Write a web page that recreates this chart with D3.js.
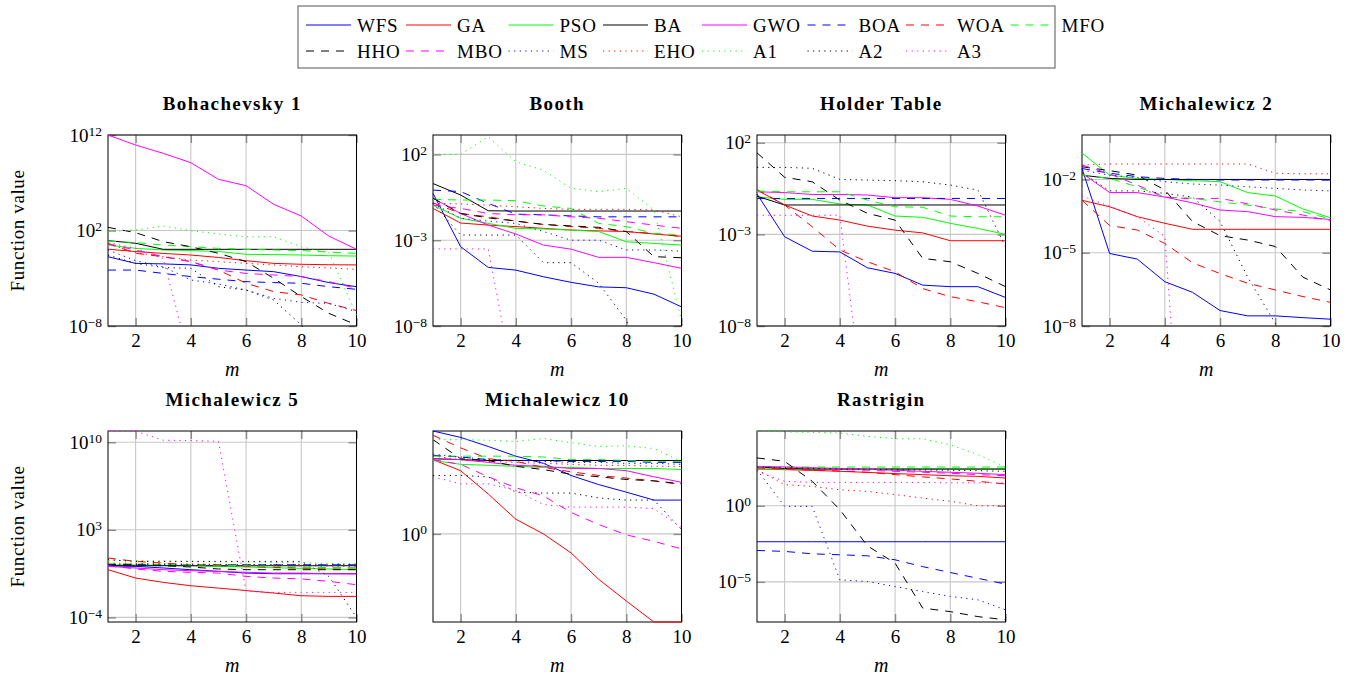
<!DOCTYPE html>
<html>
<head>
<meta charset="utf-8">
<script src="https://cdn.jsdelivr.net/npm/d3@7"></script>
<style>
  html, body { margin: 0; padding: 0; background: #fff; }
  svg { display: block; }
  svg text { font-family: "Liberation Serif", "DejaVu Serif", serif; }
</style>
</head>
<body>
<svg id="chart" width="1353" height="680"></svg>
<script>
// ---- series definitions -------------------------------------------------
const algorithms = ["WFS", "GA", "PSO", "BA", "GWO", "BOA", "WOA", "MFO",
                    "HHO", "MBO", "MS", "EHO", "A1", "A2", "A3"];
const algorithmColors = ["#0000ff", "#ff0000", "#00ff00", "#000000", "#ff00ff",
                         "#0000ff", "#ff0000", "#00ff00", "#000000", "#ff00ff",
                         "#0000ff", "#ff0000", "#00ff00", "#000000", "#ff00ff"];
const algorithmStyles = ["solid", "solid", "solid", "solid", "solid",
                         "dashed", "dashed", "dashed", "dashed", "dashed",
                         "dotted", "dotted", "dotted", "dotted", "dotted"];
const mValues = [1, 2, 3, 4, 5, 6, 7, 8, 9, 10];
const xTickValues = [2, 4, 6, 8, 10];

// ---- function values per benchmark, one row per algorithm (order above) --
const bohachevsky1 = [
  [0.18, 0.036, 0.032, 0.025, 0.011, 7.2e-3, 4.9e-3, 1.5e-3, 3.5e-4, 1.3e-4],
  [1.1, 0.63, 0.4, 0.27, 0.15, 0.069, 0.036, 0.029, 0.026, 0.025],
  [3.0, 1.35, 0.91, 0.79, 0.63, 0.32, 0.30, 0.27, 0.23, 0.21],
  [8.7, 4.6, 1.07, 1.07, 1.07, 1.07, 1.07, 1.07, 1.07, 1.07],
  [1e12, 8.9e10, 1.2e10, 1.26e9, 2.3e7, 4.9e6, 5.5e4, 3.3e3, 26, 1.07],
  [7.2e-3, 7.2e-3, 3.2e-3, 1.5e-3, 7.9e-4, 4.4e-4, 3.5e-4, 3.0e-4, 1.3e-4, 6.9e-5],
  [4.6, 0.41, 0.18, 0.055, 7.2e-3, 3.0e-4, 4.0e-5, 1.8e-5, 2.3e-6, 4.1e-7],
  [7.9, 5.4, 3.0, 2.0, 1.35, 1.07, 0.91, 0.79, 0.56, 0.41],
  [214, 59, 6.8, 2.0, 0.41, 0.055, 1.0e-3, 1.2e-5, 2.1e-7, 1.3e-8],
  [3.9, 0.91, 0.18, 0.055, 7.2e-3, 3.2e-3, 2.2e-3, 1.5e-3, 4.4e-4, 8.7e-5],
  [0.91, 0.069, 0.016, 6.6e-4, 2.5e-4, 5.9e-5, 7.9e-6, 3.0e-6, 2.3e-6, 3.2e-7],
  [3.9, 0.48, 0.18, 0.081, 0.055, 0.036, 0.025, 0.016, 0.012, 8.5e-3],
  [76, 112, 295, 95, 43, 22, 22, 2.0, 0.48, 1.4e-7],
  [0.27, 0.036, 0.013, 0.011, 1.3e-4, 5.9e-5, 5.2e-6, 1.3e-8, 1e-12, 1e-12],
  [5.4, 1.35, 0.12, 1e-12, 1e-12, 1e-12, 1e-12, 1e-12, 1e-12, 1e-12]
];
const booth = [
  [0.54, 4.2e-4, 2.6e-5, 1.8e-5, 7.4e-6, 3.5e-6, 1.9e-6, 1.7e-6, 7.2e-7, 1.3e-7],
  [0.071, 0.010, 7.6e-3, 6.2e-3, 4.9e-3, 3.9e-3, 3.5e-3, 3.2e-3, 2.3e-3, 1.7e-3],
  [0.11, 0.019, 9.5e-3, 4.9e-3, 4.5e-3, 3.9e-3, 3.2e-3, 8.1e-4, 6.5e-4, 5.2e-4],
  [2.0, 0.43, 0.052, 0.050, 0.050, 0.050, 0.050, 0.050, 0.050, 0.050],
  [0.28, 0.036, 7.6e-3, 2.3e-3, 5.2e-4, 3.0e-4, 1.0e-4, 1.0e-4, 4.9e-5, 2.3e-5],
  [0.83, 0.68, 0.14, 0.033, 0.030, 0.026, 0.023, 0.023, 0.023, 0.023],
  [0.15, 0.036, 0.023, 0.013, 8.3e-3, 6.2e-3, 4.9e-3, 3.2e-3, 2.5e-3, 1.6e-3],
  [0.24, 0.22, 0.22, 0.20, 0.098, 0.071, 9.5e-3, 6.2e-3, 2.5e-3, 2.0e-3],
  [0.28, 0.036, 0.020, 0.013, 8.3e-3, 6.8e-3, 5.6e-3, 3.2e-3, 1.1e-4, 9.5e-5],
  [0.11, 0.071, 0.036, 0.030, 0.030, 0.023, 0.019, 0.012, 7.6e-3, 4.9e-3],
  [0.14, 0.019, 0.013, 9.5e-3, 3.2e-3, 1.0e-3, 1.0e-3, 2.7e-4, 2.7e-4, 2.3e-4],
  [0.14, 0.13, 0.11, 0.089, 0.071, 0.063, 0.063, 0.063, 0.058, 0.023],
  [100, 100, 1070, 37, 12, 1.05, 0.68, 1.05, 0.058, 2.2e-8],
  [0.14, 2.0e-3, 2.0e-3, 2.0e-3, 4.9e-5, 4.9e-5, 3.1e-6, 2.2e-8, 1e-12, 1e-12],
  [3.1e-4, 3.1e-4, 3.1e-4, 1e-12, 1e-12, 1e-12, 1e-12, 1e-12, 1e-12, 1e-12]
];
const holderTable = [
  [0.16, 7.4e-4, 1.2e-4, 1.1e-4, 1.5e-5, 7.4e-6, 1.7e-6, 1.4e-6, 1.4e-6, 3.6e-7],
  [0.26, 0.040, 0.010, 6.0e-3, 2.8e-3, 1.7e-3, 1.2e-3, 4.5e-4, 4.5e-4, 4.5e-4],
  [0.11, 0.081, 0.081, 0.045, 0.040, 0.010, 8.5e-3, 4.0e-3, 2.1e-3, 1.0e-3],
  [0.12, 0.040, 0.040, 0.040, 0.040, 0.040, 0.040, 0.040, 0.040, 0.040],
  [0.21, 0.19, 0.15, 0.15, 0.14, 0.10, 0.10, 0.081, 0.035, 0.011],
  [0.091, 0.091, 0.091, 0.091, 0.091, 0.091, 0.091, 0.091, 0.091, 0.091],
  [0.28, 0.040, 2.6e-3, 1.4e-4, 3.2e-5, 9.1e-6, 1.1e-6, 4.0e-7, 2.1e-7, 1.0e-7],
  [0.23, 0.21, 0.21, 0.21, 0.074, 0.032, 0.030, 0.010, 9.1e-3, 9.1e-3],
  [28, 1.3, 0.74, 0.074, 0.014, 6.0e-3, 4.9e-5, 3.2e-5, 7.4e-6, 1.4e-6],
  null,
  null,
  null,
  null,
  [4.5, 4.5, 4.0, 1.0, 0.91, 0.85, 0.74, 0.49, 0.26, 2.1e-4],
  [0.011, 0.011, 0.011, 0.011, 1e-14, 1e-14, 1e-14, 1e-14, 1e-14, 1e-14]
];
const michalewicz2 = [
  [0.028, 9.3e-6, 5.5e-6, 6.5e-7, 2.4e-7, 4.3e-8, 2.6e-8, 2.6e-8, 2.2e-8, 1.9e-8],
  [1.4e-3, 7.6e-4, 3.0e-4, 1.6e-4, 9.1e-5, 9.1e-5, 9.1e-5, 9.1e-5, 9.1e-5, 9.1e-5],
  [0.12, 0.015, 0.011, 0.010, 8.9e-3, 8.1e-3, 2.9e-3, 2.1e-3, 6.2e-4, 2.7e-4],
  [0.015, 0.011, 0.010, 0.010, 0.010, 0.010, 0.010, 0.010, 0.010, 0.010],
  [0.018, 2.9e-3, 2.9e-3, 1.9e-3, 1.1e-3, 5.6e-4, 4.8e-4, 3.0e-4, 2.8e-4, 2.3e-4],
  [0.028, 0.018, 0.013, 0.011, 0.010, 9.5e-3, 9.5e-3, 9.5e-3, 9.5e-3, 9.5e-3],
  [1.4e-3, 1.3e-4, 8.5e-5, 2.4e-5, 3.9e-6, 1.4e-6, 5.6e-7, 3.0e-7, 1.6e-7, 9.3e-8],
  [0.015, 0.011, 5.0e-3, 1.9e-3, 1.7e-3, 1.2e-3, 8.9e-4, 6.2e-4, 4.8e-4, 2.4e-4],
  [0.033, 0.023, 0.015, 3.7e-3, 1.9e-4, 5.0e-5, 3.3e-5, 1.8e-5, 1.0e-6, 3.0e-7],
  [0.039, 0.017, 5.9e-3, 1.9e-3, 1.6e-3, 1.7e-3, 1.0e-3, 5.6e-4, 3.5e-4, 2.0e-4],
  [0.024, 0.015, 0.012, 8.1e-3, 6.5e-3, 5.9e-3, 5.0e-3, 4.3e-3, 3.7e-3, 3.4e-3],
  [0.039, 0.043, 0.043, 0.043, 0.043, 0.043, 0.043, 0.018, 0.017, 0.017],
  null,
  [0.019, 3.4e-3, 3.4e-3, 2.7e-3, 1.9e-3, 1.9e-4, 1.0e-6, 1.3e-8, 1e-12, 1e-12],
  [2.1e-3, 8.1e-4, 3.0e-4, 4.6e-5, 1e-20, 1e-20, 1e-20, 1e-20, 1e-20, 1e-20]
];
const michalewicz5 = [
  [1.35, 1.2, 0.89, 0.65, 0.48, 0.35, 0.31, 0.31, 0.31, 0.31],
  [0.65, 0.14, 0.063, 0.034, 0.022, 0.014, 8.9e-3, 5.4e-3, 4.8e-3, 4.8e-3],
  [1.6, 1.55, 1.45, 1.35, 1.2, 1.07, 0.93, 0.83, 0.74, 0.65],
  [1.35, 1.35, 1.35, 1.35, 1.35, 1.35, 1.35, 1.35, 1.35, 1.35],
  [1.2, 0.89, 0.65, 0.54, 0.48, 0.40, 0.35, 0.35, 0.31, 0.30],
  [1.6, 1.6, 1.6, 1.6, 1.6, 1.6, 1.6, 1.6, 1.6, 1.6],
  [5.6, 3.0, 2.2, 1.6, 1.6, 1.2, 1.0, 0.89, 0.89, 0.89],
  [1.95, 1.86, 1.74, 1.6, 1.5, 1.35, 1.2, 1.07, 0.98, 0.89],
  [1.6, 1.6, 1.35, 1.07, 0.74, 0.65, 0.65, 0.65, 0.65, 0.65],
  [1.35, 0.74, 0.48, 0.40, 0.35, 0.19, 0.14, 0.12, 0.076, 0.041],
  [1.7, 1.7, 1.7, 1.7, 1.7, 1.7, 1.7, 1.7, 1.7, 1.7],
  [2.2, 2.1, 1.95, 1.86, 1.74, 1.6, 1.45, 1.35, 1.26, 1.2],
  [3.6, 3.4, 3.2, 3.0, 2.8, 2.7, 2.5, 2.3, 2.1, 1.95],
  [4.1, 3.0, 3.0, 3.0, 3.0, 3.0, 3.0, 3.0, 0.19, 1.0e-4],
  [7.6e10, 7.6e10, 1.45e10, 1.35e10, 1.2e10, 0.012, 0.010, 0.010, 0.010, 0.010]
];
const michalewicz10 = [
  [9.55, 8.3, 6.8, 5.5, 4.7, 3.6, 2.95, 2.5, 2.1, 2.1],
  [5.1, 4.0, 2.4, 1.38, 1.0, 0.66, 0.37, 0.23, 0.145, 0.145],
  [5.0, 4.6, 4.5, 4.4, 4.3, 4.3, 4.2, 4.2, 4.2, 4.1],
  [5.2, 5.1, 5.0, 5.0, 5.0, 5.0, 5.0, 5.0, 5.0, 5.0],
  [5.2, 5.1, 4.8, 4.5, 4.4, 4.2, 4.2, 4.0, 3.5, 3.1],
  [5.6, 5.4, 5.1, 5.0, 5.0, 4.9, 4.9, 4.9, 4.8, 4.8],
  [8.7, 6.6, 5.2, 4.9, 4.3, 3.9, 3.6, 3.4, 3.2, 2.95],
  [5.5, 5.5, 5.5, 5.5, 5.4, 5.1, 5.1, 5.0, 4.9, 4.9],
  [7.9, 5.2, 5.0, 4.4, 4.1, 3.7, 3.5, 3.3, 3.2, 3.0],
  [5.1, 4.6, 3.5, 2.75, 2.3, 1.6, 1.23, 0.98, 0.85, 0.72],
  [5.75, 5.4, 5.1, 5.0, 4.9, 4.8, 4.8, 4.7, 4.7, 4.6],
  [5.5, 5.1, 4.9, 4.8, 4.7, 4.6, 4.5, 4.5, 4.4, 4.4],
  [7.9, 7.9, 7.8, 7.6, 8.1, 7.4, 6.8, 6.9, 6.5, 4.9],
  [3.6, 3.6, 3.5, 2.5, 2.45, 2.45, 2.2, 2.1, 2.1, 1.1],
  [3.5, 3.0, 3.0, 2.6, 1.9, 1.8, 1.8, 1.8, 1.74, 1.15]
];
const rastrigin = [
  [4.3e-3, 4.3e-3, 4.3e-3, 4.3e-3, 4.3e-3, 4.3e-3, 4.3e-3, 4.3e-3, 4.3e-3, 4.3e-3],
  [257, 234, 209, 182, 155, 129, 110, 93, 85, 66],
  [257, 257, 257, 257, 257, 257, 257, 257, 257, 257],
  [347, 282, 257, 257, 257, 257, 257, 257, 257, 257],
  [389, 355, 316, 282, 245, 214, 182, 158, 135, 110],
  [1.15e-3, 1.0e-3, 6.9e-4, 6.0e-4, 5.1e-4, 2.8e-4, 1.0e-4, 4.1e-5, 1.7e-5, 7.1e-6],
  [302, 263, 224, 191, 158, 110, 78, 58, 40, 27],
  [347, 347, 347, 347, 347, 347, 347, 347, 347, 347],
  [1380, 830, 40, 0.55, 2.3e-3, 1.7e-4, 1.9e-7, 1.1e-7, 5.2e-8, 3.2e-8],
  [347, 316, 282, 245, 214, 182, 158, 135, 110, 93],
  [234, 0.91, 0.91, 1.35e-5, 1.05e-5, 4.9e-6, 2.3e-6, 1.1e-6, 6.6e-7, 1.45e-7],
  [234, 24, 18.6, 11.2, 8.7, 5.4, 3.2, 1.95, 1.0, 1.0],
  [8.1e4, 7.1e4, 6.6e4, 6.0e4, 3.6e4, 2.5e4, 2.5e4, 1.0e4, 2.3e3, 347],
  [347, 316, 282, 257, 245, 234, 224, 214, 200, 182],
  [182, 40, 34, 34, 34, 34, 34, 32, 32, 31]
];

const panelTitles = ["Bohachevsky 1", "Booth", "Holder Table", "Michalewicz 2",
                     "Michalewicz 5", "Michalewicz 10", "Rastrigin"];
const panelSeries = [bohachevsky1, booth, holderTable, michalewicz2,
                     michalewicz5, michalewicz10, rastrigin];
const panelYDomains = [[1e-8, 1e12], [1e-8, 1.35e3], [1e-8, 263], [1e-8, 0.66],
                       [4.3e-5, 7.9e10], [0.145, 9.55], [2.3e-8, 8.1e4]];
const panelYTicks = [[1e-8, 1e2, 1e12], [1e-8, 1e-3, 1e2], [1e-8, 1e-3, 1e2],
                     [1e-8, 1e-5, 1e-2], [1e-4, 1e3, 1e10], [1], [1e-5, 1]];

// ---- layout ------------------------------------------------------------
const colLeft = [108, 433, 757, 1082];
const rowTop = [135, 431];
const plotW = 248.5, plotH = 191;
const panelCells = [[0, 0], [1, 0], [2, 0], [3, 0], [0, 1], [1, 1], [2, 1]];
const fontSize = 19;
const textFont = "'Liberation Serif', 'DejaVu Serif', serif";
const dashFor = { solid: null, dashed: "8,7", dotted: "1.2,4.4" };

const svg = d3.select("#chart");
const defs = svg.append("defs");

function exponentLabel(textSel) {
  textSel.each(function (v) {
    const e = Math.round(Math.log10(v));
    const t = d3.select(this).text(null);
    t.append("tspan").text("10");
    t.append("tspan").attr("dy", "-0.45em").attr("font-size", 13.5)
      .text(e < 0 ? "\u2212" + (-e) : String(e));
  });
}

panelSeries.forEach((rows, p) => {
  const [c, r] = panelCells[p];
  const x0 = colLeft[c], y0 = rowTop[r];
  const x = d3.scaleLinear().domain([1, 10]).range([x0, x0 + plotW]);
  const y = d3.scaleLog().domain(panelYDomains[p]).range([y0 + plotH, y0]);
  const g = svg.append("g").attr("font-family", textFont);

  // grid
  g.append("g").selectAll("line").data(xTickValues).join("line")
    .attr("x1", d => x(d)).attr("x2", d => x(d))
    .attr("y1", y0).attr("y2", y0 + plotH)
    .attr("stroke", "#c8c8c8").attr("stroke-width", 1.1);
  g.append("g").selectAll("line").data(panelYTicks[p]).join("line")
    .attr("x1", x0).attr("x2", x0 + plotW)
    .attr("y1", d => y(d)).attr("y2", d => y(d))
    .attr("stroke", "#c8c8c8").attr("stroke-width", 1.1);

  // axes (ticks pointing inward, mirrored on top/right)
  const styleAxis = sel => {
    sel.attr("font-family", textFont);
    sel.select(".domain").remove();
    sel.selectAll(".tick line").attr("stroke", "#8a8a8a").attr("stroke-width", 1.4);
    sel.selectAll("text").attr("font-size", fontSize).attr("fill", "#000");
  };
  g.append("g").attr("transform", `translate(0,${y0 + plotH})`)
    .call(d3.axisBottom(x).tickValues(xTickValues).tickSizeInner(-8).tickSizeOuter(0).tickPadding(8))
    .call(styleAxis);
  g.append("g").attr("transform", `translate(0,${y0})`)
    .call(d3.axisTop(x).tickValues(xTickValues).tickSizeInner(-8).tickSizeOuter(0).tickFormat(""))
    .call(styleAxis);
  const yAxis = g.append("g").attr("transform", `translate(${x0},0)`)
    .call(d3.axisLeft(y).tickValues(panelYTicks[p]).tickSizeInner(-8).tickSizeOuter(0).tickPadding(6))
    .call(styleAxis);
  yAxis.selectAll(".tick text").call(exponentLabel);
  g.append("g").attr("transform", `translate(${x0 + plotW},0)`)
    .call(d3.axisRight(y).tickValues(panelYTicks[p]).tickSizeInner(-8).tickSizeOuter(0).tickFormat(""))
    .call(styleAxis);

  // frame
  g.append("rect").attr("x", x0).attr("y", y0).attr("width", plotW).attr("height", plotH)
    .attr("fill", "none").attr("stroke", "#000").attr("stroke-width", 1);

  // series
  const clipId = "plot-clip-" + p;
  defs.append("clipPath").attr("id", clipId).append("rect")
    .attr("x", x0 - 1).attr("y", y0 - 1).attr("width", plotW + 2).attr("height", plotH + 2);
  const line = d3.line().x((d, j) => x(mValues[j])).y(d => y(d));
  const lines = g.append("g").attr("clip-path", `url(#${clipId})`);
  rows.forEach((vals, i) => {
    if (!vals) return;
    lines.append("path").datum(vals)
      .attr("d", line)
      .attr("fill", "none")
      .attr("stroke", algorithmColors[i])
      .attr("stroke-width", 1)
      .attr("stroke-dasharray", dashFor[algorithmStyles[i]]);
  });

  // title and axis labels
  g.append("text").attr("x", x0 + plotW / 2).attr("y", y0 - 25)
    .attr("text-anchor", "middle").attr("font-weight", "bold")
    .attr("font-size", fontSize).attr("letter-spacing", 1.4)
    .text(panelTitles[p]);
  g.append("text").attr("x", x0 + plotW / 2).attr("y", y0 + plotH + 50)
    .attr("text-anchor", "middle").attr("font-style", "italic")
    .attr("font-size", fontSize + 1).text("m");
  if (c === 0) {
    g.append("text")
      .attr("transform", `translate(24,${y0 + plotH / 2}) rotate(-90)`)
      .attr("text-anchor", "middle").attr("font-size", fontSize)
      .attr("letter-spacing", 0.6).text("Function value");
  }
});

// ---- legend --------------------------------------------------------------
const legendColX = [306, 406, 508.5, 603, 702, 807.5, 906, 1010.5];
const legendRowY = [25, 51];
const legend = svg.append("g").attr("font-family", textFont);
legend.append("rect").attr("x", 298).attr("y", 6).attr("width", 757).attr("height", 62)
  .attr("fill", "#fff").attr("stroke", "#555").attr("stroke-width", 1);
algorithms.forEach((name, i) => {
  const col = i % 8, row = Math.floor(i / 8);
  const lx = legendColX[col], ly = legendRowY[row];
  legend.append("line").attr("x1", lx).attr("x2", lx + 45).attr("y1", ly).attr("y2", ly)
    .attr("stroke", algorithmColors[i]).attr("stroke-width", 1)
    .attr("stroke-dasharray", dashFor[algorithmStyles[i]]);
  legend.append("text").attr("x", lx + 51).attr("y", ly + 6.5)
    .attr("font-size", fontSize).attr("letter-spacing", 0.8).text(name);
});
</script>
</body>
</html>
